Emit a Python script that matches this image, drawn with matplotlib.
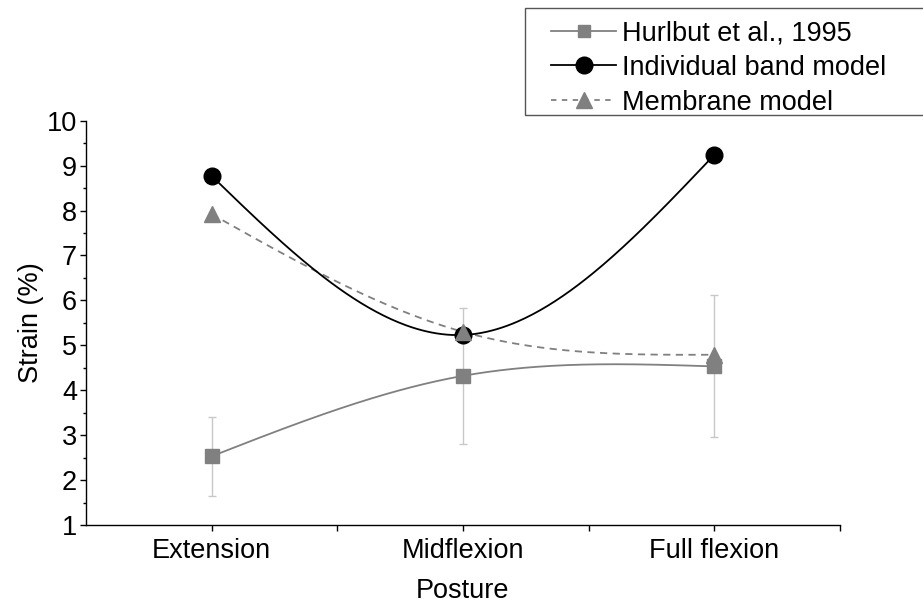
import numpy as np
import matplotlib
matplotlib.use("Agg")
import matplotlib.pyplot as plt
from matplotlib.patches import Rectangle
from matplotlib.lines import Line2D

categories = ["Extension", "Midflexion", "Full flexion"]
hurlbut = [2.53, 4.32, 4.53]
hurlbut_err = [0.88, 1.51, 1.58]
band_model = [8.77, 5.23, 9.24]
membrane_model = [7.92, 5.30, 4.79]
y_ticks = [1, 2, 3, 4, 5, 6, 7, 8, 9, 10]


def natural_spline(x, y, n=200):
    x = np.asarray(x, float)
    y = np.asarray(y, float)
    k = len(x)
    h = np.diff(x)
    A = np.zeros((k, k))
    b = np.zeros(k)
    A[0, 0] = 1
    A[-1, -1] = 1
    for i in range(1, k - 1):
        A[i, i - 1] = h[i - 1]
        A[i, i] = 2 * (h[i - 1] + h[i])
        A[i, i + 1] = h[i]
        b[i] = 6 * ((y[i + 1] - y[i]) / h[i] - (y[i] - y[i - 1]) / h[i - 1])
    M = np.linalg.solve(A, b)
    xs = np.linspace(x[0], x[-1], n)
    ys = np.empty_like(xs)
    for j, xv in enumerate(xs):
        i = min(np.searchsorted(x, xv, side="right") - 1, k - 2)
        hi = h[i]
        a = (x[i + 1] - xv) / hi
        c = (xv - x[i]) / hi
        ys[j] = (M[i] * (x[i + 1] - xv) ** 3 / (6 * hi) + M[i + 1] * (xv - x[i]) ** 3 / (6 * hi)
                 + (y[i] - M[i] * hi ** 2 / 6) * a + (y[i + 1] - M[i + 1] * hi ** 2 / 6) * c)
    return xs, ys


plt.rcParams["font.family"] = ["Liberation Sans", "DejaVu Sans"]
FS = 19.5

fig = plt.figure(figsize=(9.23, 6.05), dpi=100)
ax = fig.add_axes([86 / 923, 1 - 525 / 605, (840 - 86) / 923, (525 - 120.7) / 605])

x = np.arange(len(categories))
gray = "#808080"

ax.errorbar(x, hurlbut, yerr=hurlbut_err, fmt="none", ecolor="#c8c8c8",
            elinewidth=1.0, capsize=3, capthick=1.0, zorder=1)

xs, ys = natural_spline(x, membrane_model)
ax.plot(xs, ys, color=gray, lw=1.3, ls=(0, (4, 3)), zorder=2)
xs, ys = natural_spline(x, hurlbut)
ax.plot(xs, ys, color=gray, lw=1.3, zorder=2)
xs, ys = natural_spline(x, band_model)
ax.plot(xs, ys, color="black", lw=1.3, zorder=3)

ax.plot(x, hurlbut, ls="none", marker="s", ms=10, color=gray, mec=gray, zorder=4)
ax.plot(x, band_model, ls="none", marker="o", ms=12, color="black", zorder=4)
ax.plot(x, membrane_model, ls="none", marker="^", ms=12, color=gray, mec=gray, zorder=5)

ax.set_xlim(-0.5, 2.5)
ax.set_ylim(1, 10)
ax.set_xticks(x)
ax.set_xticklabels(categories)
ax.set_xticks([0.5, 1.5, 2.5], minor=True)
ax.set_yticks(y_ticks)
ax.set_yticks(np.arange(1.5, 10, 1.0), minor=True)

for s in ["top", "right"]:
    ax.spines[s].set_visible(False)
for s in ["left", "bottom"]:
    ax.spines[s].set_linewidth(1.0)

ax.tick_params(axis="both", which="major", direction="out", length=4.5, width=1.0,
               labelsize=FS, pad=2)
ax.tick_params(axis="x", which="minor", direction="out", length=4.5, width=1.0)
ax.tick_params(axis="y", which="minor", direction="out", length=2.5, width=1.0)
ax.tick_params(axis="x", which="major", pad=5)

ax.set_ylabel("Strain (%)", fontsize=FS, labelpad=2)
ax.set_xlabel("Posture", fontsize=FS, labelpad=10)

# legend box extending beyond right edge
fig.patches.append(Rectangle((525 / 923, 1 - 115 / 605), 420 / 923, 107 / 605,
                             transform=fig.transFigure, fill=False,
                             edgecolor="#555555", lw=1.0))
handles = [
    Line2D([], [], color=gray, lw=1.3, marker="s", ms=9),
    Line2D([], [], color="black", lw=1.3, marker="o", ms=12),
    Line2D([], [], color=gray, lw=1.3, ls=(0, (3, 3)), marker="^", ms=12),
]
labels = ["Hurlbut et al., 1995", "Individual band model", "Membrane model"]
fig.legend(handles, labels, loc="upper left", bbox_to_anchor=(535 / 923, 1 - 4 / 605),
           frameon=False, fontsize=FS, handlelength=2.4, handletextpad=0.2,
           labelspacing=0.32, borderpad=0.1)

fig.savefig("out.png", dpi=100)
